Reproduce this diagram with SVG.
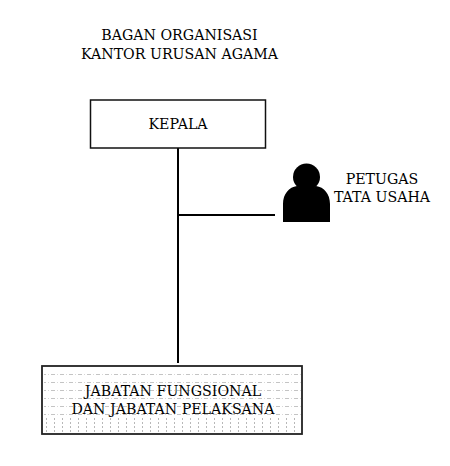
<svg xmlns="http://www.w3.org/2000/svg" width="450" height="466" viewBox="0 0 450 466">
<defs>
<pattern id="dots" patternUnits="userSpaceOnUse" x="42" y="366" width="9" height="8"><rect x="0" y="0" width="4" height="1" fill="#c4c4c4"/><rect x="6" y="0" width="1" height="1" fill="#d8d8d8"/></pattern>
<pattern id="vdots" patternUnits="userSpaceOnUse" x="46" y="418" width="8" height="4"><rect x="0" y="0" width="1" height="2" fill="#b8b8b8"/></pattern>
</defs>
<style>
text{font-family:"DejaVu Serif","Liberation Serif",serif;font-size:14.2px;fill:#000;text-anchor:middle}
.box{fill:#fff;stroke:#111;stroke-width:1.5}
.ln{stroke:#000;stroke-width:2;fill:none}
</style>
<rect width="450" height="466" fill="#fff"/>
<g id="title"><text x="179.500" y="40">BAGAN ORGANISASI</text><text x="179.500" y="59">KANTOR URUSAN AGAMA</text></g>
<g id="connectors"><path class="ln" d="M178 148V363M178 215H275"/></g>
<g id="kepala"><rect class="box" x="90.500" y="100" width="175" height="48"/><text x="178" y="129">KEPALA</text></g>
<g id="petugas">
<circle cx="306.500" cy="177" r="13.500" fill="#000"/>
<path d="M283 222V204C283 194 289 187 297 186C301 190 312 190 316 186C324 187 330 194 330 204V222Z" fill="#000"/>
<text x="382" y="184">PETUGAS</text><text x="382" y="202">TATA USAHA</text>
</g>
<g id="jabatan">
<rect x="42" y="366" width="260" height="68" fill="#fff"/>
<rect x="44" y="367" width="257" height="50" fill="url(#dots)"/>
<rect x="44" y="418" width="257" height="15" fill="url(#vdots)"/>
<rect x="42" y="366" width="260" height="68" style="fill:none;stroke:#222;stroke-width:1.8"/>
<text x="173" y="396">JABATAN FUNGSIONAL</text><text x="173" y="414">DAN JABATAN PELAKSANA</text>
</g>
</svg>
